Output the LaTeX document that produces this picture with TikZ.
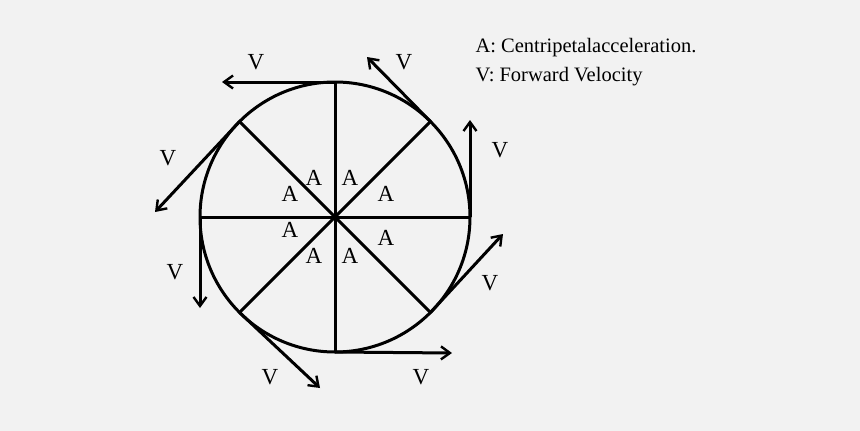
\documentclass[tikz,border=0pt]{standalone}
\usepackage{fontspec}
\setmainfont{Liberation Serif}
\usetikzlibrary{arrows.meta,calc}
\begin{document}
\begin{tikzpicture}[x=1pt,y=-1pt,line width=3pt,
  vel/.style={-{Straight Barb[length=9pt,width=13pt,line width=2.4pt]}},
  lab/.style={font=\fontsize{23}{26}\selectfont,inner sep=0pt},
  leg/.style={font=\fontsize{20.5}{24}\selectfont,inner sep=0pt,anchor=west}]
\fill[gray!10] (0,0) rectangle (860,431);
\useasboundingbox (0,0) rectangle (860,431);
\coordinate (O) at (335,217);
\draw (O) circle[radius=135];
\foreach \a/\n in {90/p0,45/p1,0/p2,-45/p3,-90/p4,-135/p5,180/p6,135/p7}
  \coordinate (\n) at ($(O)+(\a:135 and -135)$);
\foreach \n in {p0,p1,p2,p3,p4,p5,p6,p7}
  \draw (O) -- (\n);
\coordinate (e0) at (222,82);
\coordinate (e1) at (367,57);
\coordinate (e2) at (470,120);
\coordinate (e3) at (503,234);
\coordinate (e4) at (452,353);
\coordinate (e5) at (320,388);
\coordinate (e6) at (200,308);
\coordinate (e7) at (155,212);
\foreach \i in {0,...,7} \draw[vel] (p\i) -- (e\i);
\node[lab] (v0) at (256,62) {V};
\node[lab] (v1) at (404,62) {V};
\node[lab] (v2) at (500,150) {V};
\node[lab] (v3) at (490,283) {V};
\node[lab] (v4) at (421,377) {V};
\node[lab] (v5) at (270,377) {V};
\node[lab] (v6) at (175,272) {V};
\node[lab] (v7) at (168,158) {V};
\node[lab] (a0) at (314,178) {A};
\node[lab] (a1) at (350,178) {A};
\node[lab] (a2) at (290,194) {A};
\node[lab] (a3) at (386,194) {A};
\node[lab] (a4) at (290,230) {A};
\node[lab] (a5) at (386,238) {A};
\node[lab] (a6) at (314,256) {A};
\node[lab] (a7) at (350,256) {A};
\node[leg] (l1) at (474,48) {A: Centripetalacceleration.};
\node[leg] (l2) at (474,77) {V: Forward Velocity};
\end{tikzpicture}
\end{document}
